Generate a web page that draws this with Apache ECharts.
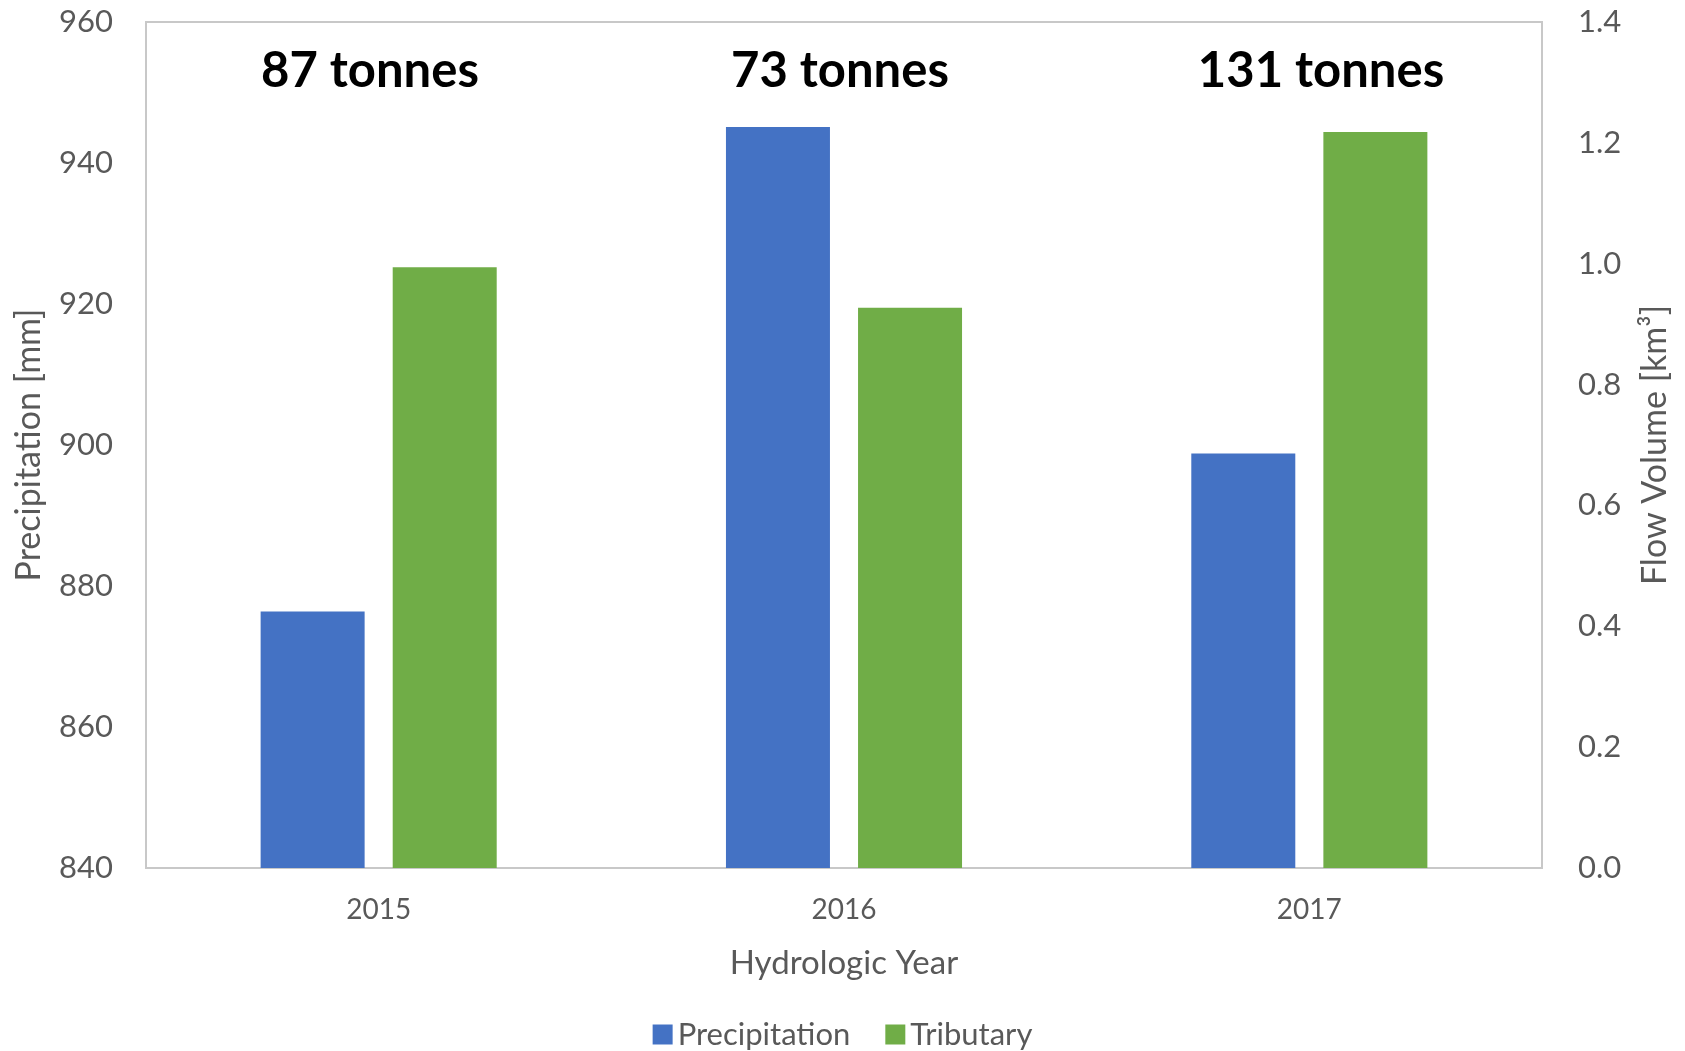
<!DOCTYPE html>
<html>
<head>
<meta charset="utf-8">
<title>Precipitation and Tributary Flow by Hydrologic Year</title>
<script src="https://cdn.jsdelivr.net/npm/echarts@6/dist/echarts.min.js"></script>
<style>
  html, body { margin: 0; padding: 0; background: #ffffff; }
  #chart { width: 1685px; height: 1051px; }
</style>
</head>
<body>
<div id="chart"></div>
<script>
// Hydrologic years on the category axis
const years = ['2015', '2016', '2017'];
// Annual precipitation, mm (left axis)
const precipitation = [876.4, 945.1, 898.8];
// Tributary flow volume, km³ (right axis)
const tributary = [0.994, 0.927, 1.218];
// Annual load for each year, tonnes
const loads = [87, 73, 131];
// Axis tick settings
const precipTicks = { min: 840, max: 960, interval: 20 };
const flowTicks = { min: 0, max: 1.4, interval: 0.2 };

const grey = '#595959';
const font = 'Lato, "Open Sans", sans-serif';

const chart = echarts.init(document.getElementById('chart'), null, { renderer: 'canvas' });

// Load annotations placed above each year's pair of bars
const loadX = [370, 840, 1321];
const loadLabels = loads.map((v, i) => ({
  type: 'text',
  x: loadX[i],
  y: 71,
  style: {
    text: v + ' tonnes',
    font: 'bold 49px ' + font,
    fill: '#000000',
    align: 'center',
    verticalAlign: 'middle'
  }
}));

chart.setOption({
  animation: false,
  backgroundColor: '#ffffff',
  textStyle: { fontFamily: font },
  grid: {
    left: 146, right: 143, top: 22, bottom: 183,
    show: true, borderColor: '#c8c8c8', borderWidth: 2
  },
  legend: {
    top: 1014,
    left: 'center',
    itemWidth: 20,
    itemHeight: 20,
    itemGap: 35,
    icon: 'rect',
    textStyle: { color: grey, fontSize: 31, fontFamily: font },
    data: ['Precipitation', 'Tributary']
  },
  xAxis: {
    type: 'category',
    data: years,
    name: 'Hydrologic Year',
    nameLocation: 'middle',
    nameGap: 79,
    nameTextStyle: { color: grey, fontSize: 33, fontFamily: font },
    axisLine: { show: false },
    axisTick: { show: false },
    axisLabel: { color: grey, fontSize: 28, margin: 28, fontFamily: font },
    splitLine: { show: false }
  },
  yAxis: [
    {
      type: 'value',
      position: 'left',
      min: precipTicks.min, max: precipTicks.max, interval: precipTicks.interval,
      name: 'Precipitation [mm]',
      nameLocation: 'middle',
      nameRotate: 90,
      nameGap: 100,
      nameTextStyle: { color: grey, fontSize: 34, fontFamily: font },
      axisLine: { show: false },
      axisTick: { show: false },
      splitLine: { show: false },
      axisLabel: { color: grey, fontSize: 31, margin: 33, fontFamily: font }
    },
    {
      type: 'value',
      position: 'right',
      min: flowTicks.min, max: flowTicks.max, interval: flowTicks.interval,
      name: 'Flow Volume [km³]',
      nameLocation: 'middle',
      nameRotate: 90,
      nameGap: 96,
      nameTextStyle: { color: grey, fontSize: 34, fontFamily: font },
      axisLine: { show: false },
      axisTick: { show: false },
      splitLine: { show: false },
      axisLabel: {
        color: grey, fontSize: 31, margin: 36, fontFamily: font,
        formatter: v => v.toFixed(1)
      }
    }
  ],
  series: [
    {
      name: 'Precipitation',
      type: 'bar',
      yAxisIndex: 0,
      data: precipitation,
      barWidth: 104,
      barGap: '27%',
      itemStyle: { color: '#4472C4' }
    },
    {
      name: 'Tributary',
      type: 'bar',
      yAxisIndex: 1,
      data: tributary,
      barWidth: 104,
      barGap: '27%',
      itemStyle: { color: '#70AD47' }
    }
  ],
  graphic: loadLabels
});
</script>
</body>
</html>
